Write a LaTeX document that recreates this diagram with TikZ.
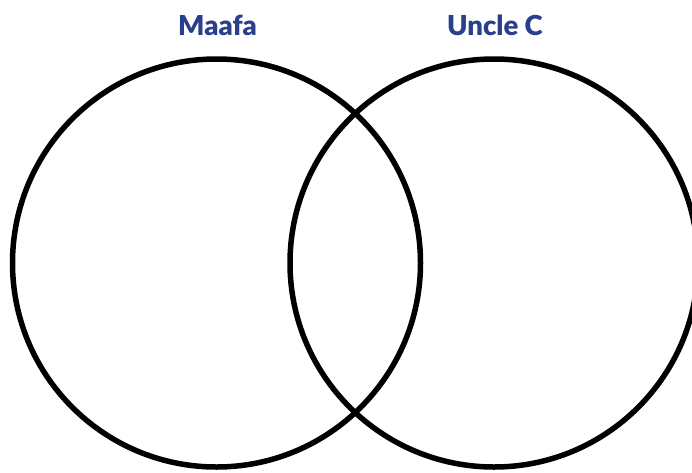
\documentclass[tikz,border=0pt]{standalone}
\usepackage{fontspec}
\setmainfont{Lato}
\newfontfamily\titlefont{Lato Black}
\definecolor{titleblue}{HTML}{2A3F8C}
\tikzset{
  vcircle/.style={draw=black, line width=5.5pt, circle, minimum size=408pt, inner sep=0pt},
  vtitle/.style={text=titleblue, font=\titlefont\fontsize{27.5}{27.5}\selectfont, anchor=base, inner sep=0pt}
}
\begin{document}
\begin{tikzpicture}[x=1pt,y=-1pt]
\useasboundingbox (0,0) rectangle (692,472);
\node[vcircle] (left) at (216.5,263) {};
\node[vcircle] (right) at (494,263) {};
\node[vtitle] (maafa) at (217.5,35) {Maafa};
\node[vtitle] (uncle) at (495,35) {Uncle C};
\end{tikzpicture}
\end{document}
